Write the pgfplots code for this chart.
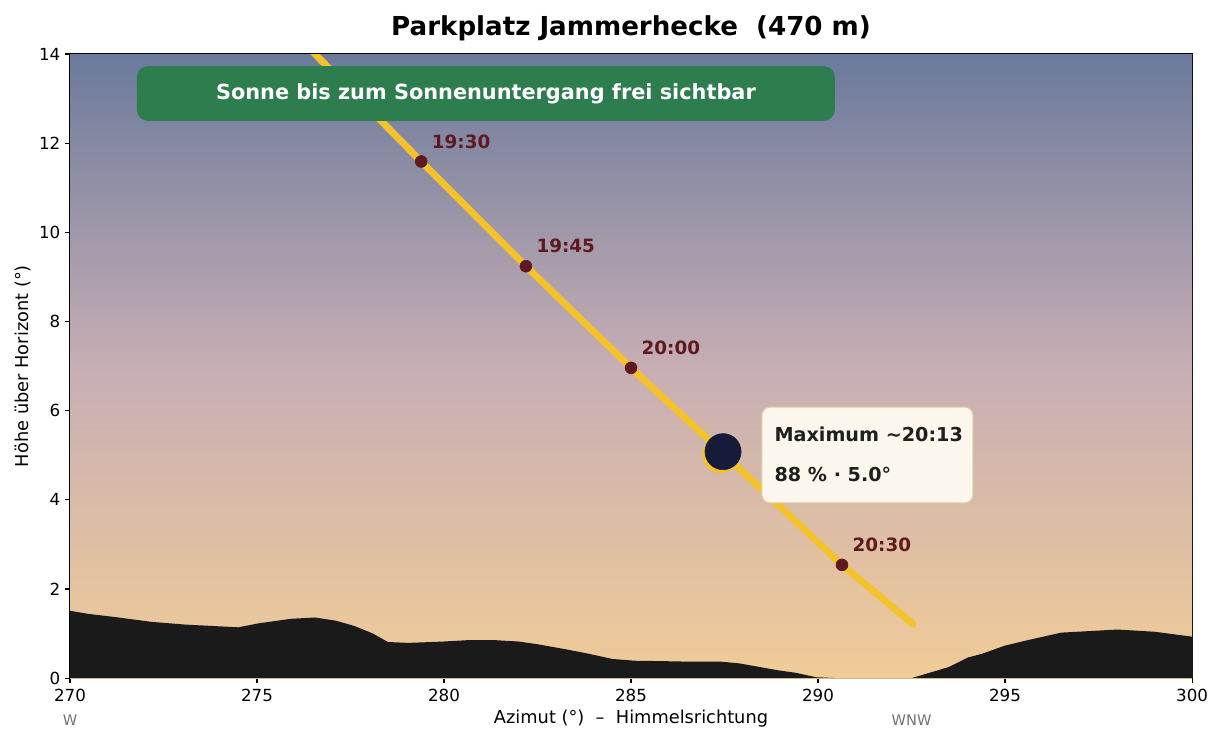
\documentclass[border=0pt]{standalone}
\usepackage{pgfplots}
\pgfplotsset{compat=1.18}
\usepackage{fontspec}
\setmainfont{DejaVu Sans}
\definecolor{skytop}{HTML}{6B7A9C}
\definecolor{skymid}{HTML}{C7AEB4}
\definecolor{skybot}{HTML}{F1CC97}
\definecolor{hill}{HTML}{1A1A1A}
\definecolor{sunline}{HTML}{F4C22B}
\definecolor{tmark}{HTML}{5E1A1E}
\definecolor{okgreen}{HTML}{2E7D4F}
\definecolor{moon}{HTML}{161B3A}
\definecolor{annofill}{HTML}{FBF7EC}
\definecolor{annoedge}{HTML}{D8D0A8}
\begin{document}
\begin{tikzpicture}
\begin{axis}[
  at={(0,0)}, anchor=south west,
  scale only axis, width=807.8pt, height=449.3pt,
  xmin=270, xmax=300, ymin=0, ymax=14,
  xtick={270,275,...,300}, ytick={0,2,...,14},
  tick align=outside, xtick pos=bottom, ytick pos=left,
  major tick length=3.5pt,
  tick style={black, line width=0.8pt},
  axis line style={black, line width=0.8pt},
  /pgf/number format/assume math mode=true,
  /pgf/number format/set thousands separator={},
  tick label style={font=\fontsize{12}{14}\selectfont},
  xticklabel style={yshift=-1pt},
  xlabel={Azimut (°)\ \ –\ \ Himmelsrichtung},
  ylabel={Höhe über Horizont (°)},
  label style={font=\fontsize{12.8}{15}\selectfont},
  xlabel style={at={(rel axis cs:0.5,0)}, anchor=center, yshift=-28.8pt},
  ylabel style={at={(axis description cs:-0.0418,0.5)}, anchor=center},
  title={Parkplatz Jammerhecke\ \ (470 m)},
  title style={font=\fontsize{18.8}{22}\bfseries\selectfont, at={(rel axis cs:0.5,1)}, anchor=center, yshift=12.5pt},
  clip mode=individual,
]
\fill[top color=skytop, bottom color=skybot, middle color=skymid] (axis cs:270,0) rectangle (axis cs:300,14);

\addplot[fill=hill, draw=none] coordinates {
(270,1.51) (270.5,1.44) (271.2,1.37) (272.2,1.26) (273.1,1.20) (274.5,1.14)
(275.05,1.23) (275.9,1.33) (276.55,1.36) (277.1,1.29) (277.6,1.17) (278.1,1.00)
(278.5,0.81) (279.05,0.79) (279.97,0.82) (280.6,0.85) (281.4,0.85) (282.0,0.82)
(282.5,0.76) (283.3,0.64) (283.85,0.55) (284.5,0.43) (285.1,0.39) (285.9,0.38)
(286.5,0.37) (287.4,0.37) (287.9,0.33) (288.9,0.18) (289.4,0.12) (289.95,0.02)
(290.5,0) (292.5,0) (293.5,0.25) (294.0,0.46) (294.4,0.55) (295.0,0.73)
(295.6,0.85) (296.5,1.02) (298.0,1.09) (299.0,1.04) (300,0.93)
} \closedcycle;

\addplot[sunline, line width=5pt, line cap=round, no marks] coordinates {
(276.2,14.3) (276.55,14.0) (279.39,11.59) (282.19,9.24) (285.0,6.96) (287.43,5.07) (290.64,2.54) (292.54,1.21)
};

\addplot[only marks, mark=*, mark size=4.3pt, mark options={fill=tmark, draw=tmark}] coordinates {
(279.39,11.59) (282.19,9.24) (285.0,6.96) (290.64,2.54)
};

\addplot[only marks, mark=*, mark size=13pt, mark options={fill=sunline, draw=sunline}] coordinates {(287.40,5.01)};
\addplot[only marks, mark=*, mark size=13pt, mark options={fill=moon, draw=moon}] coordinates {(287.46,5.08)};

\fill[okgreen, rounded corners=8pt] (axis cs:271.79,12.50) rectangle (axis cs:290.45,13.73);
\node[white, font=\fontsize{15}{17}\bfseries\selectfont] at (axis cs:281.12,13.10) {Sonne bis zum Sonnenuntergang frei sichtbar};

\node[anchor=west, text=tmark, font=\fontsize{13.2}{15}\bfseries\selectfont, xshift=7.5pt, yshift=14.4pt, inner sep=0pt] at (axis cs:279.39,11.59) {19:30};
\node[anchor=west, text=tmark, font=\fontsize{13.2}{15}\bfseries\selectfont, xshift=7.5pt, yshift=14.4pt, inner sep=0pt] at (axis cs:282.19,9.24) {19:45};
\node[anchor=west, text=tmark, font=\fontsize{13.2}{15}\bfseries\selectfont, xshift=7.5pt, yshift=14.4pt, inner sep=0pt] at (axis cs:285.0,6.96) {20:00};
\node[anchor=west, text=tmark, font=\fontsize{13.2}{15}\bfseries\selectfont, xshift=7.5pt, yshift=14.4pt, inner sep=0pt] at (axis cs:290.64,2.54) {20:30};

\filldraw[fill=annofill, draw=annoedge, line width=0.8pt, rounded corners=5.8pt] (axis cs:288.50,3.93) rectangle (axis cs:294.14,6.08);
\node[anchor=west, inner sep=0pt, text=black!88, font=\fontsize{13.8}{16}\bfseries\selectfont] at (axis cs:288.83,5.475) {Maximum \textasciitilde 20:13};
\node[anchor=west, inner sep=0pt, text=black!88, font=\fontsize{13.8}{16}\bfseries\selectfont] at (axis cs:288.83,4.577) {88 \% · 5.0°};

\node[text=black!55, font=\fontsize{10.5}{12}\selectfont] at (axis cs:270,0) [yshift=-30.2pt] {W};
\node[text=black!55, font=\fontsize{10.5}{12}\selectfont] at (axis cs:292.5,0) [yshift=-30.2pt] {WNW};
\end{axis}
\pgfresetboundingbox
\path[use as bounding box] (-50.4pt,-47.52pt) rectangle (830.8pt,488.2pt);
\end{tikzpicture}
\end{document}
